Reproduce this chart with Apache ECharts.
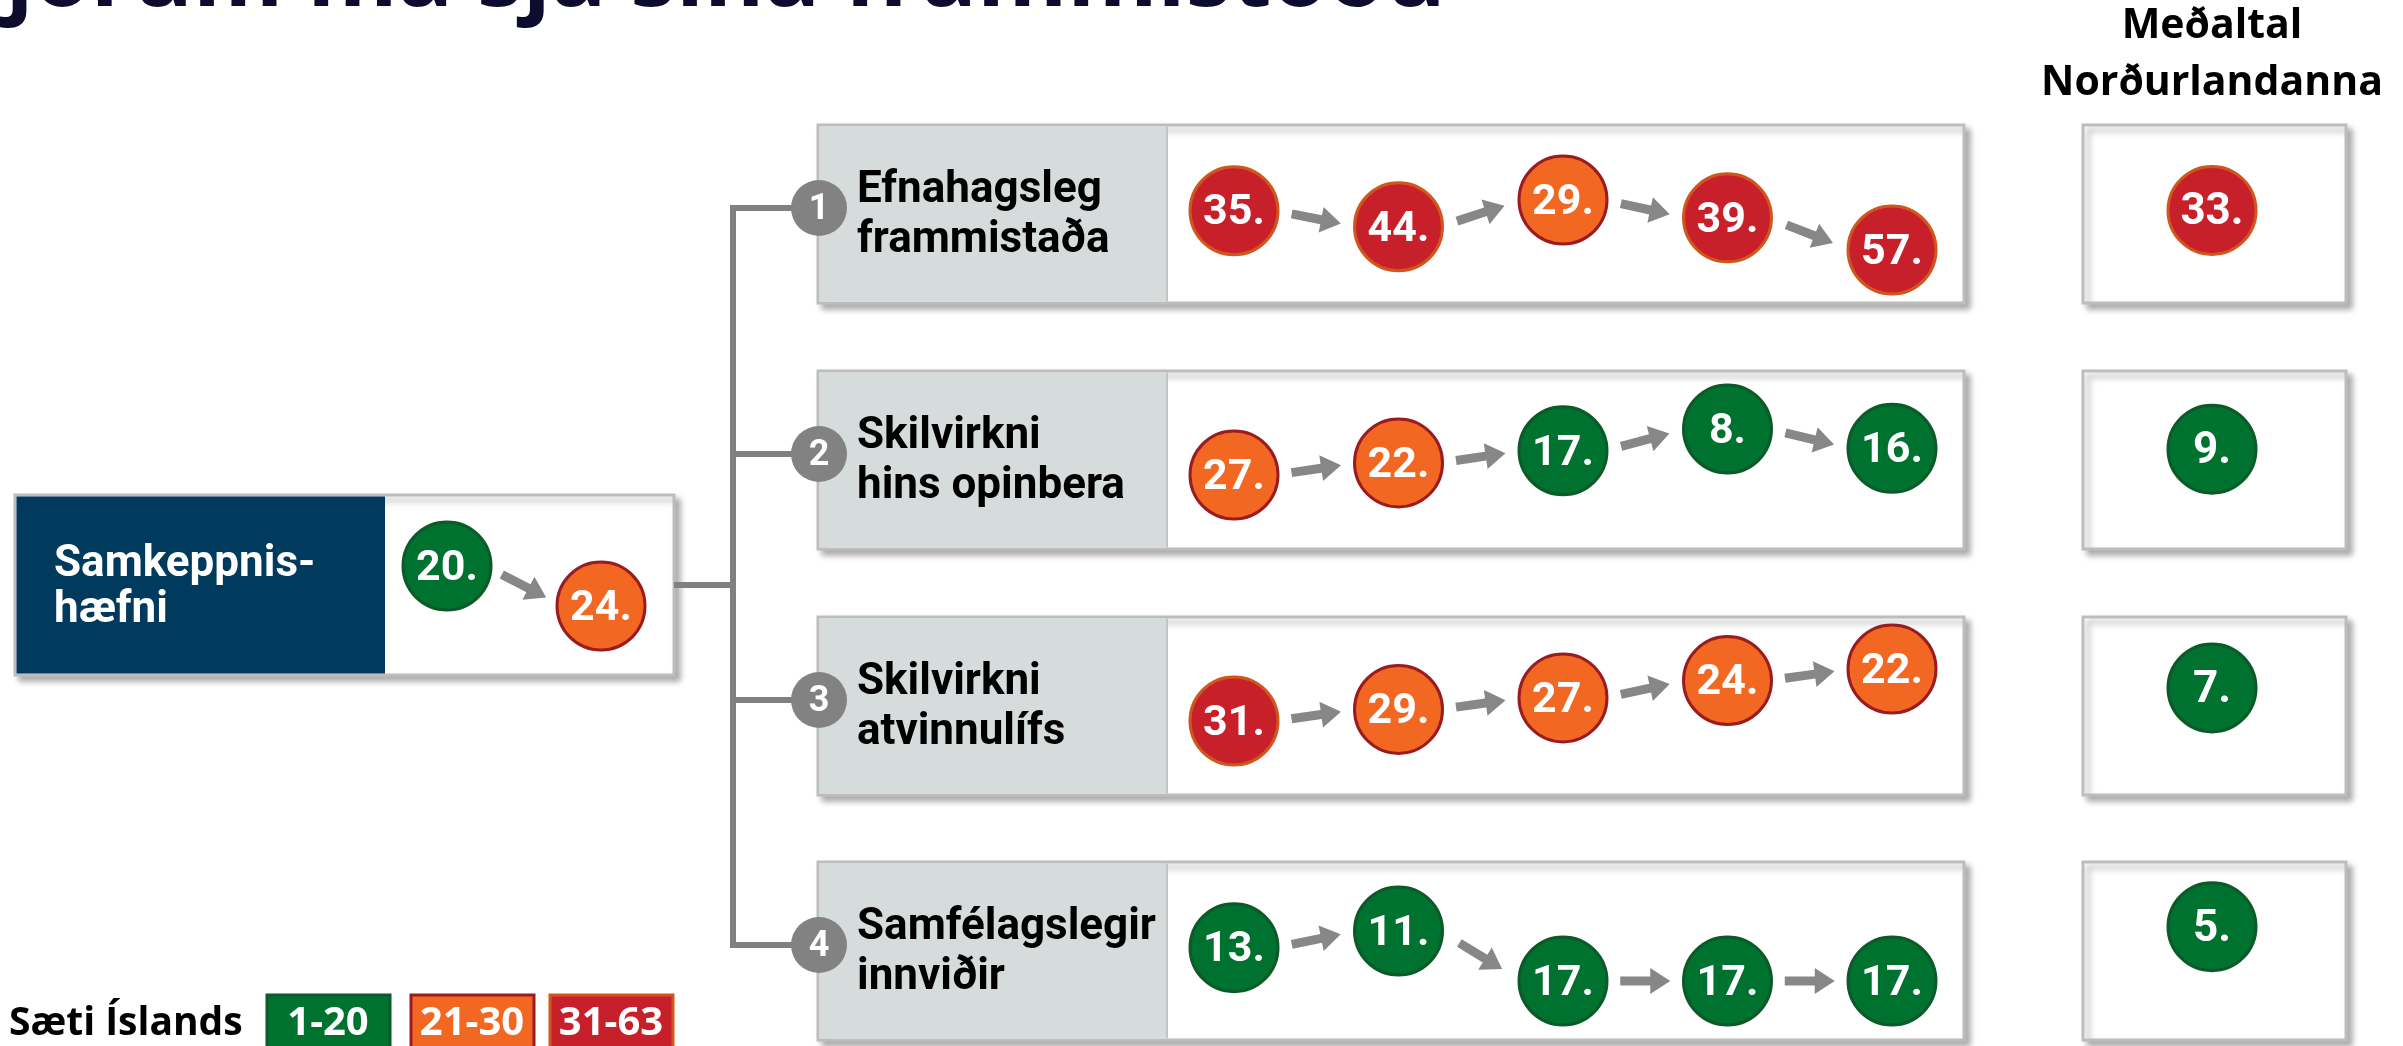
<!DOCTYPE html>
<html lang="is">
<head>
    <meta charset="UTF-8" />
    <title>Samkeppnishæfni Íslands</title>
    <script src="https://cdn.jsdelivr.net/npm/echarts@6/dist/echarts.min.js"></script>
    <style>
        html, body { margin: 0; padding: 0; background: #fff; }
        #main { width: 2403px; height: 1046px; }
    </style>
</head>
<body>
<div id="main"></div>
<script type="text/javascript">
    // gögn
    var steps = ['1', '2', '3', '4', '5'];
    var overallSteps = ['1', '2'];
    var pillars = ['Efnahagsleg\nframmistaða', 'Skilvirkni\nhins opinbera', 'Skilvirkni\natvinnulífs', 'Samfélagslegir\ninnviðir'];
    var ranksOverall = [20, 24];
    var ranksEcon = [35, 44, 29, 39, 57];
    var ranksGov = [27, 22, 17, 8, 16];
    var ranksBiz = [31, 29, 27, 24, 22];
    var ranksInfra = [13, 11, 17, 17, 17];
    var nordicAvg = [33, 9, 7, 5];
    var bandLabels = ['1-20', '21-30', '31-63'];
    var bandLimits = [20, 30, 63];

    var rowRanks = [ranksEcon, ranksGov, ranksBiz, ranksInfra];

    // útlit
    var bandFill = ['#00722f', '#f26722', '#c8202a'];
    var bandEdge = ['#0b5a28', '#9b1c20', '#d1561e'];
    var rowTops = [125, 371, 617, 862];
    var rowH = 178;
    var rowSpan = [[200, 250], [429, 475], [669, 721], [931, 981]];
    var numFont = "Roboto, 'DejaVu Sans Condensed', sans-serif";
    var arrowGrey = '#878787';
    var lineGrey = '#808080';

    function bandOf(r) {
        for (var b = 0; b < bandLimits.length; b++) {
            if (r <= bandLimits[b]) return b;
        }
        return bandLimits.length - 1;
    }

    function rankItem(value, r) {
        var b = bandOf(r);
        return { value: value, rank: r, itemStyle: { color: bandFill[b], borderColor: bandEdge[b], opacity: 1 } };
    }

    // ör á milli tveggja hringja
    function renderArrow(params, api) {
        var p0 = api.coord([api.value(0), api.value(1)]);
        var p1 = api.coord([api.value(0) + 1, api.value(2)]);
        var dx = p1[0] - p0[0], dy = (p1[1] - p0[1]) * 2;
        var len = Math.sqrt(dx * dx + dy * dy);
        var ux = dx / len, uy = dy / len, nx = -uy, ny = ux;
        var mx = (p0[0] + p1[0]) / 2, my = (p0[1] + p1[1]) / 2;
        var half = 25, w = 4.5, hw = 13, hl = 20;
        var tx = mx - ux * half, ty = my - uy * half;
        var px = mx + ux * half, py = my + uy * half;
        var kx = px - ux * hl, ky = py - uy * hl;
        return {
            type: 'polygon',
            shape: { points: [
                [tx + nx * w, ty + ny * w], [kx + nx * w, ky + ny * w], [kx + nx * hw, ky + ny * hw],
                [px, py],
                [kx - nx * hw, ky - ny * hw], [kx - nx * w, ky - ny * w], [tx - nx * w, ty - ny * w]
            ] },
            style: { fill: arrowGrey }
        };
    }

    var grids = [], xAxes = [], yAxes = [], series = [];

    function circleSeries(gi, data, font, size) {
        return {
            type: 'scatter', xAxisIndex: gi, yAxisIndex: gi, symbolSize: 88, z: 3, silent: true,
            itemStyle: { borderWidth: 3, opacity: 1 },
            emphasis: { disabled: true },
            label: { show: true, position: 'inside', offset: [0, 3], color: '#fff', fontFamily: font,
                fontWeight: 'bold', fontSize: size, formatter: function (p) { return p.data.rank + '.'; } },
            data: data
        };
    }

    function addTrack(ranks, cats, left, width, top, bottom) {
        var gi = grids.length;
        grids.push({ left: left, width: width, top: top, height: bottom - top });
        xAxes.push({ type: 'category', gridIndex: gi, data: cats, boundaryGap: false, show: false });
        yAxes.push({ type: 'value', gridIndex: gi, inverse: true, show: false,
            min: Math.min.apply(null, ranks), max: Math.max.apply(null, ranks) });
        var arrows = [];
        for (var i = 0; i < ranks.length - 1; i++) arrows.push([i, ranks[i], ranks[i + 1]]);
        series.push({
            type: 'custom', xAxisIndex: gi, yAxisIndex: gi, renderItem: renderArrow,
            encode: { x: 0, y: 1 }, data: arrows, z: 2, silent: true
        });
        series.push(circleSeries(gi, ranks.map(function (r, i) { return rankItem([i, r], r); }), numFont, 43));
    }

    addTrack(ranksOverall, overallSteps, 447, 154, 566, 606);
    for (var k = 0; k < rowRanks.length; k++) {
        addTrack(rowRanks[k], steps, 1234, 658, rowSpan[k][0], rowSpan[k][1]);
    }

    // meðaltal Norðurlandanna
    var ng = grids.length;
    grids.push({ left: 2112, width: 200, top: 91, height: 984 });
    xAxes.push({ type: 'category', gridIndex: ng, data: ['avg'], show: false });
    yAxes.push({ type: 'category', gridIndex: ng, data: pillars, inverse: true, show: false });
    series.push(circleSeries(ng, nordicAvg.map(function (r, i) { return rankItem([0, i], r); }), 'Roboto', 44));

    // kassar, línur og texti
    var shadow = { shadowBlur: 6, shadowOffsetX: 5, shadowOffsetY: 5, shadowColor: 'rgba(0,0,0,0.3)' };
    function boxStyle() {
        return Object.assign({ fill: '#fff', stroke: '#bdbdbd', lineWidth: 3 }, shadow);
    }
    var els = [];
    els.push({ type: 'text', x: -30, y: -20, z: 1, style: { text: 'fjórum má sjá sína frammistöðu',
        fill: '#0d0b2e', font: "bold 92px 'Open Sans'", verticalAlign: 'middle' } });
    els.push({ type: 'text', x: 2212, y: 55, z: 1, style: { text: 'Meðaltal\nNorðurlandanna',
        fill: '#000', font: "bold 41px 'Open Sans'", align: 'center', verticalAlign: 'middle', lineHeight: 57 } });

    // samkeppnishæfni
    els.push({ type: 'rect', z: 0, shape: { x: 15, y: 495, width: 659, height: 180 }, style: boxStyle() });
    els.push({ type: 'rect', z: 0, shape: { x: 16.5, y: 496.5, width: 368.5, height: 177 }, style: { fill: '#003a5d' } });
    els.push({ type: 'text', x: 54, y: 588, z: 1, style: { text: 'Samkeppnis-\nhæfni', fill: '#fff',
        font: 'bold 44px ' + numFont, verticalAlign: 'middle', lineHeight: 46 } });

    // tengilínur
    var badgeY = rowTops.map(function (t) { return t + 83; });
    els.push({ type: 'line', z: 1, shape: { x1: 674, y1: 585, x2: 733, y2: 585 }, style: { stroke: lineGrey, lineWidth: 6 } });
    els.push({ type: 'line', z: 1, shape: { x1: 733, y1: badgeY[0] - 3, x2: 733, y2: badgeY[3] + 3 }, style: { stroke: lineGrey, lineWidth: 6 } });

    for (var r = 0; r < pillars.length; r++) {
        var t = rowTops[r];
        els.push({ type: 'line', z: 1, shape: { x1: 733, y1: badgeY[r], x2: 815, y2: badgeY[r] }, style: { stroke: lineGrey, lineWidth: 6 } });
        els.push({ type: 'rect', z: 0, shape: { x: 818, y: t, width: 1146, height: rowH }, style: boxStyle() });
        els.push({ type: 'rect', z: 0, shape: { x: 819.5, y: t + 1.5, width: 347, height: rowH - 3 }, style: { fill: '#d6dcdc' } });
        els.push({ type: 'line', z: 0, shape: { x1: 1167, y1: t + 1.5, x2: 1167, y2: t + rowH - 1.5 }, style: { stroke: '#c4c4c4', lineWidth: 2 } });
        els.push({ type: 'rect', z: 0, shape: { x: 2083, y: t, width: 263, height: rowH }, style: boxStyle() });
        els.push({ type: 'circle', z: 4, shape: { cx: 819, cy: badgeY[r], r: 28 }, style: { fill: '#828282' } });
        els.push({ type: 'text', x: 819, y: badgeY[r] + 2, z: 5, style: { text: String(r + 1), fill: '#fff',
            font: 'bold 36px ' + numFont, align: 'center', verticalAlign: 'middle' } });
        els.push({ type: 'text', x: 857, y: t + 91, z: 5, style: { text: pillars[r], fill: '#000',
            font: 'bold 44px ' + numFont, verticalAlign: 'middle', lineHeight: 50 } });
    }

    // skýringar
    els.push({ type: 'text', x: 9, y: 1024, z: 1, style: { text: 'Sæti Íslands', fill: '#000',
        font: "bold 39px 'Open Sans'", verticalAlign: 'middle' } });
    var legX = [267, 411, 550];
    for (var b = 0; b < bandLabels.length; b++) {
        els.push({ type: 'rect', z: 1, shape: { x: legX[b], y: 995, width: 123, height: 60 },
            style: { fill: bandFill[b], stroke: bandEdge[b], lineWidth: 3 } });
        els.push({ type: 'text', x: legX[b] + 61, y: 1024, z: 2, style: { text: bandLabels[b], fill: '#fff',
            font: "bold 40px 'Open Sans'", align: 'center', verticalAlign: 'middle' } });
    }

    var myChart = echarts.init(document.getElementById('main'));
    var option = {
        animation: false,
        grid: grids,
        xAxis: xAxes,
        yAxis: yAxes,
        series: series,
        graphic: { elements: els }
    };
    myChart.setOption(option);
</script>
</body>
</html>
